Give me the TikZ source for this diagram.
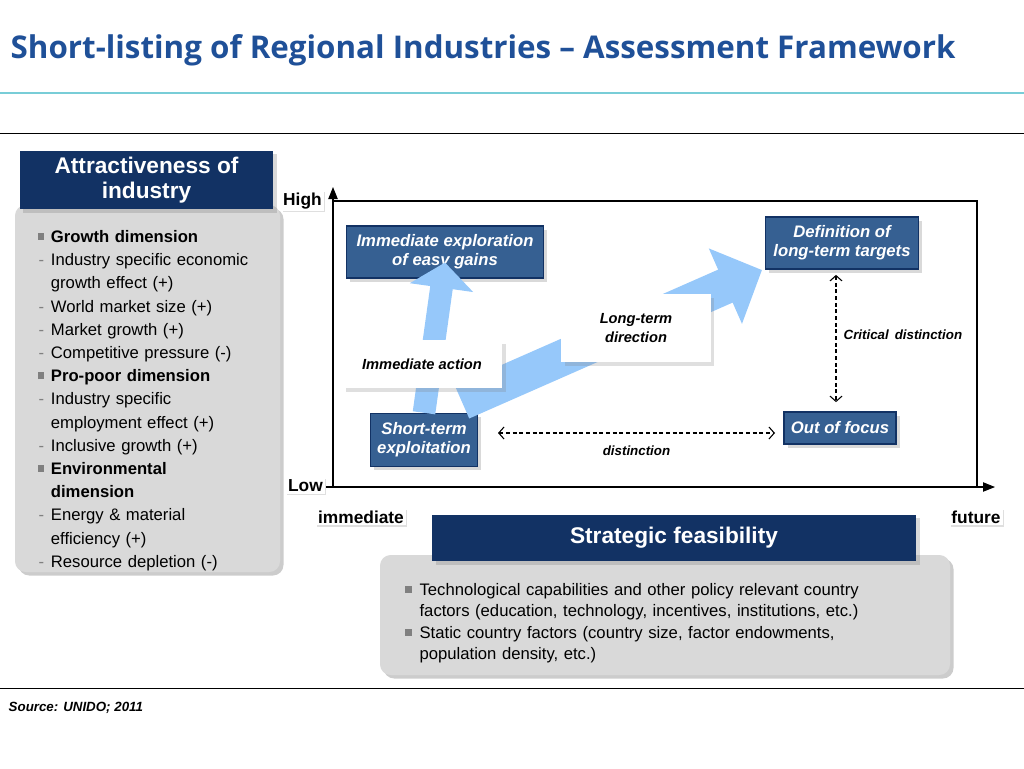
\documentclass[tikz,border=0pt]{standalone}
\usepackage{fontspec}
\setmainfont{Liberation Sans}
\newfontfamily\titlefont{Open Sans}
\usetikzlibrary{arrows.meta,shadows,positioning}
\definecolor{titleblue}{RGB}{31,80,152}
\definecolor{headblue}{RGB}{18,50,100}
\definecolor{boxblue}{RGB}{54,96,146}
\definecolor{panelgray}{RGB}{217,217,217}
\definecolor{arrowblue}{RGB}{150,200,250}
\definecolor{rulecyan}{RGB}{120,205,215}
\tikzset{
  header/.style={fill=headblue, text=white, font=\bfseries\fontsize{17}{19}\selectfont, align=center, inner sep=0pt, drop shadow={opacity=.3}},
  panel/.style={fill=panelgray, rounded corners=8pt, drop shadow={opacity=.4}},
  fieldbox/.style={fill=boxblue, draw=headblue, thick, text=white, font=\bfseries\itshape\fontsize{12.5}{14.5}\selectfont, align=center, inner sep=0pt, drop shadow={opacity=.3}},
  notebox/.style={fill=white, text=black, font=\bfseries\itshape\fontsize{11}{14}\selectfont, align=center, inner sep=0pt, drop shadow={opacity=.25}},
  axislabel/.style={fill=white, font=\bfseries\fontsize{13}{15}\selectfont, inner sep=1.5pt, drop shadow={opacity=.25, shadow xshift=1pt, shadow yshift=-1pt}},
  blockarrow/.style={color=arrowblue},
  dashlink/.style={densely dashed, thick, {Straight Barb[length=4pt,width=9pt]}-{Straight Barb[length=4pt,width=9pt]}},
  smalllabel/.style={font=\bfseries\itshape\fontsize{10}{12}\selectfont}
}
\newcommand{\sqb}{\textcolor{gray}{\raisebox{2pt}{\rule{5pt}{5pt}}}}
\begin{document}
\begin{tikzpicture}[x=0.75pt, y=-0.75pt]
\useasboundingbox (0,0) rectangle (1024,768);
% title
\node[anchor=west, text=titleblue, font=\titlefont\bfseries\fontsize{23.5}{26}\selectfont] (title) at (6,50) {Short-listing of Regional Industries – Assessment Framework};
\draw[rulecyan, line width=2.2pt] (0,93) -- (1024,93);
\draw[line width=.6pt] (0,133) -- (1024,133);
\draw[line width=.6pt] (0,688) -- (1024,688);
\node[anchor=west, font=\bfseries\itshape\fontsize{10}{12}\selectfont] (source) at (4,708) {Source: UNIDO; 2011};

% left panel
\path[panel] (15,205) rectangle (280,572);
\node[header, minimum width=190pt, minimum height=44pt] (attr) at (146.5,180) {Attractiveness of\\industry};
\node[anchor=north west, text width=166pt, font=\fontsize{12.5}{17.4}\selectfont, inner sep=0pt] (crit) at (28,219) {%
\begin{list}{}{\leftmargin=17pt \labelwidth=12pt \labelsep=5pt \itemsep=0pt \parsep=0pt \topsep=0pt}
\item[\sqb] \textbf{Growth dimension}
\item[\textcolor{gray}{-}] Industry specific economic growth effect (+)
\item[\textcolor{gray}{-}] World market size (+)
\item[\textcolor{gray}{-}] Market growth (+)
\item[\textcolor{gray}{-}] Competitive pressure (-)
\item[\sqb] \textbf{Pro-poor dimension}
\item[\textcolor{gray}{-}] Industry specific\\employment effect (+)
\item[\textcolor{gray}{-}] Inclusive growth (+)
\item[\sqb] \textbf{Environmental\\dimension}
\item[\textcolor{gray}{-}] Energy \& material\\efficiency (+)
\item[\textcolor{gray}{-}] Resource depletion (-)
\end{list}};

% axes
\coordinate (origin) at (333,487);
\coordinate (ytop) at (333,187);
\coordinate (xend) at (995,487);
\draw[line width=.8pt, -{Triangle[length=9pt,width=7pt]}] (origin) -- (ytop);
\draw[line width=.8pt, -{Triangle[length=9pt,width=7pt]}] (origin) -- (xend);
\draw[line width=.8pt] (333,201) -- (977,201) -- (977,487);
\draw[line width=.8pt] (326,487) -- (origin);
\node[axislabel, anchor=east] (high) at (324,201) {High};
\node[axislabel, anchor=east] (low) at (325,486) {Low};
\node[axislabel] (immediate) at (361,517) {immediate};
\node[axislabel] (future) at (976,517) {future};

% quadrant boxes
\node[fieldbox, minimum width=148pt, minimum height=39pt] (explore) at (445,252) {Immediate exploration\\of easy gains};
\node[fieldbox, minimum width=115pt, minimum height=39pt] (targets) at (842,243) {Definition of\\long-term targets};
\node[fieldbox, minimum width=80pt, minimum height=40pt] (shortterm) at (424,440) {Short-term\\exploitation};
\node[fieldbox, minimum width=84pt, minimum height=24pt] (outfocus) at (840,428) {Out of focus};

% block arrows
\draw[blockarrow, line width=17pt, -{Triangle[length=19pt,width=47pt]}] (shortterm.north) -- ([yshift=12pt]explore.south);
\draw[blockarrow, line width=27pt, -{Triangle[length=30pt,width=60pt]}] (462,402) -- (762,270);
\node[notebox, minimum width=120pt, minimum height=36pt] (action) at (422,364) {Immediate action};
\node[notebox, minimum width=112pt, minimum height=51pt] (direction) at (636,328) {Long-term\\direction};

% dashed links
\coordinate (distL) at (498,433);
\coordinate (distR) at (775,433);
\draw[dashlink] (distL) -- (distR) node[smalllabel, midway, below=6pt] (dist) {distinction};
\draw[dashlink] ([yshift=-4pt]targets.south -| 836,0) -- ([yshift=7pt]outfocus.north -| 836,0) node[smalllabel, midway, right=2pt, yshift=3pt] (crit2) {Critical\, distinction};

% bottom panel
\path[panel] (380,555) rectangle (950,675);
\node[header, minimum width=363pt, minimum height=35pt] (feas) at (674,538) {Strategic feasibility};
\node[anchor=north west, text width=370pt, font=\fontsize{12.5}{16}\selectfont, inner sep=0pt] (factors) at (398,574) {%
\begin{list}{}{\leftmargin=16pt \labelwidth=10pt \labelsep=6pt \itemsep=0pt \parsep=0pt \topsep=0pt}
\item[\sqb] Technological capabilities and other policy relevant country\\factors (education, technology, incentives, institutions, etc.)
\item[\sqb] Static country factors (country size, factor endowments,\\population density, etc.)
\end{list}};
\end{tikzpicture}
\end{document}
